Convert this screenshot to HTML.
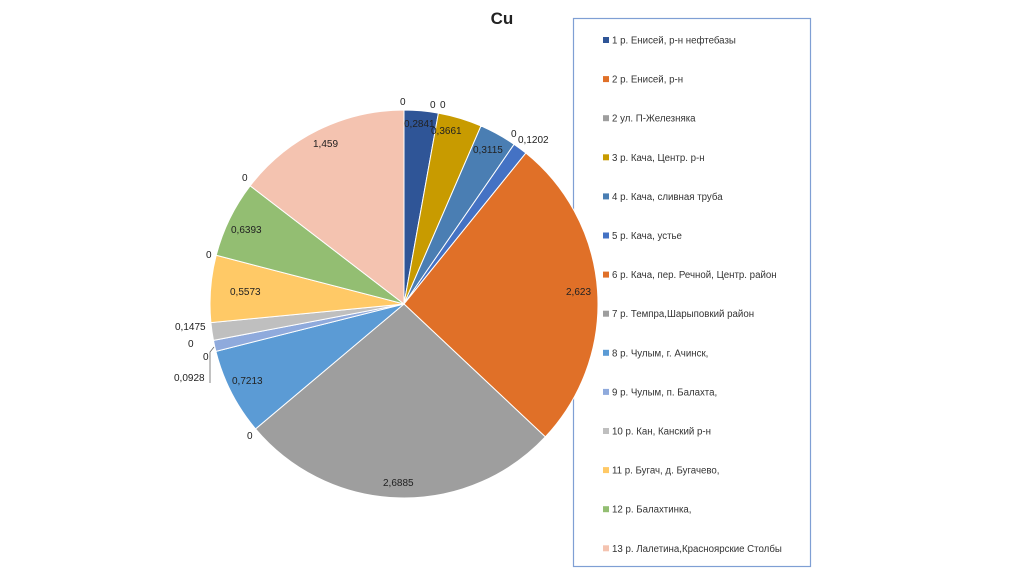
<!DOCTYPE html>
<html><head><meta charset="utf-8"><style>
html,body{margin:0;padding:0;background:#fff;}
body{width:1024px;height:574px;overflow:hidden;font-family:"Liberation Sans",sans-serif;}
</style></head><body>
<svg id="s" width="1024" height="574" xmlns="http://www.w3.org/2000/svg" font-family="Liberation Sans, sans-serif">
<text x="502" y="24" font-size="17" font-weight="bold" text-anchor="middle" fill="#222">Cu</text>
<rect x="573.5" y="18.5" width="237" height="548" fill="none" stroke="#7F9FD4" stroke-width="1.2"/>
<g id="pie"></g>
<g id="leg" font-size="9.7" fill="#333"></g>
<g font-size="10" fill="#222">
<text x="400" y="105">0</text>
<text x="430" y="108">0</text><text x="440" y="108">0</text>
<text x="404" y="127">0,2841</text>
<text x="431" y="134">0,3661</text>
<text x="473" y="153">0,3115</text>
<text x="511" y="137">0</text>
<text x="518" y="143">0,1202</text>
<text x="566" y="295">2,623</text>
<text x="383" y="486">2,6885</text>
<text x="247" y="439">0</text>
<text x="232" y="384">0,7213</text>
<text x="174" y="381">0,0928</text>
<text x="203" y="360">0</text>
<text x="188" y="347">0</text>
<text x="175" y="330">0,1475</text>
<text x="230" y="295">0,5573</text>
<text x="206" y="258">0</text>
<text x="231" y="233">0,6393</text>
<text x="242" y="181">0</text>
<text x="313" y="147">1,459</text>
</g>
<polyline points="210,383 210,352 214,347" fill="none" stroke="#666" stroke-width="0.8"/>
</svg>
<script>
var vals=[0.2841,0,0,0.3661,0.3115,0.1202,2.623,2.6885,0.7213,0.0928,0.1475,0.5573,0.6393,1.459];
var cols=["#2F5597","#E07028","#9E9E9E","#C89B00","#4A7EB3","#4472C4","#E07028","#9E9E9E","#5B9BD5","#8FAADC","#BFBFBF","#FFC966","#93BE72","#F4C3B0"];
var names=["1 р. Енисей, р-н нефтебазы","2 р. Енисей, р-н","2 ул. П-Железняка","3 р. Кача, Центр. р-н","4 р. Кача, сливная труба","5 р. Кача, устье","6 р. Кача, пер. Речной, Центр. район","7 р. Темпра,Шарыповкий район","8 р. Чулым, г. Ачинск,","9 р. Чулым, п. Балахта,","10 р. Кан, Канский р-н","11 р. Бугач, д. Бугачево,","12 р. Балахтинка,","13 р. Лалетина,Красноярские Столбы"];
var tot=vals.reduce(function(a,b){return a+b},0),cx=404,cy=304,r=194,a=-Math.PI/2,h="";
vals.forEach(function(v,i){if(!v)return;var b=a+v/tot*2*Math.PI;
var x1=cx+r*Math.cos(a),y1=cy+r*Math.sin(a),x2=cx+r*Math.cos(b),y2=cy+r*Math.sin(b);
h+='<path d="M'+cx+','+cy+'L'+x1+','+y1+'A'+r+','+r+' 0 '+(b-a>Math.PI?1:0)+' 1 '+x2+','+y2+'Z" fill="'+cols[i]+'" stroke="#fff" stroke-width="1"/>';a=b;});
document.getElementById("pie").innerHTML=h;
var l="";names.forEach(function(n,i){var y=40+i*39.1;
l+='<rect x="603" y="'+(y-3)+'" width="6" height="6" fill="'+cols[i]+'"/><text x="612" y="'+(y+3.5)+'">'+n+'</text>';});
document.getElementById("leg").innerHTML=l;
</script>
</body></html>
